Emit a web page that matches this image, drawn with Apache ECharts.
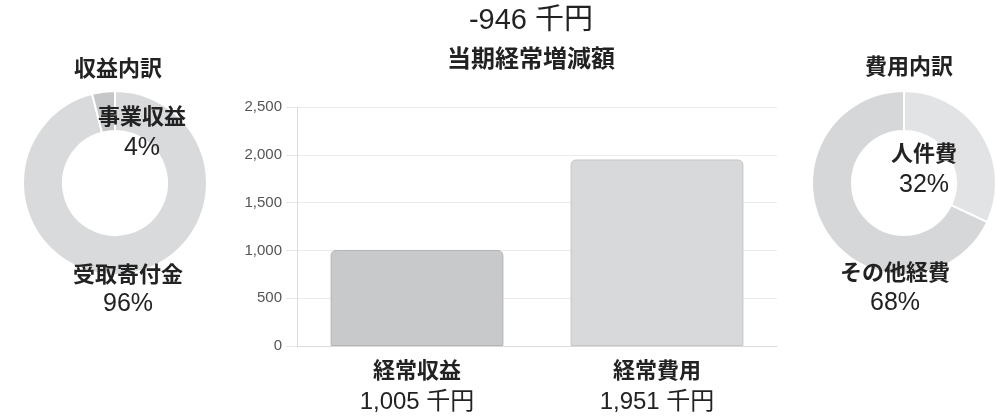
<!DOCTYPE html>
<html><head><meta charset="utf-8">
<script src="https://cdn.jsdelivr.net/npm/echarts@6/dist/echarts.min.js"></script>
<style>html,body{margin:0;padding:0;background:#fff}#c{width:996px;height:418px}</style>
</head><body><div id="c"></div>
<script>
// ---- data ----
const barCategories = ['経常収益', '経常費用'];
const barValues = [1005, 1951];
const yTicks = [0, 500, 1000, 1500, 2000, 2500];
const unit = '千円';
const mainTitle = '当期経常増減額';
const incomeTitle = '収益内訳';
const incomeNames = ['受取寄付金', '事業収益'];
const incomePct = [96, 4];
const costTitle = '費用内訳';
const costNames = ['人件費', 'その他経費'];
const costPct = [32, 68];

const FONT = '"Liberation Sans", "Noto Sans CJK JP", sans-serif';
const fmt = v => v.toLocaleString('en-US');
const net = barValues[0] - barValues[1];

const chart = echarts.init(document.getElementById('c'), null, {renderer: 'canvas'});

function txt(x, y, text, size, weight) {
  return {type: 'text', x: x, y: y, z: 100, zlevel: 1,
    style: {text: text, fill: '#222', font: (weight || 'normal') + ' ' + size + 'px ' + FONT, textAlign: 'center', textVerticalAlign: 'middle'}};
}
const labelPos = {
  income: [[128, 276, 304], [142, 118, 148]],
  cost: [[924, 155, 185], [895, 274, 303]]
};
const graphics = [
  txt(531, 21, fmt(net) + ' ' + unit, 29, 'normal'),
  txt(531, 60, mainTitle, 24, 'bold'),
  txt(118, 70, incomeTitle, 22, 'bold'),
  txt(909, 68, costTitle, 22, 'bold')
];
incomeNames.forEach((n, i) => {
  const p = labelPos.income[i];
  graphics.push(txt(p[0], p[1], n, 22, 'bold'));
  graphics.push(txt(p[0], p[2], incomePct[i] + '%', 25, 'normal'));
});
costNames.forEach((n, i) => {
  const p = labelPos.cost[i];
  graphics.push(txt(p[0], p[1], n, 22, 'bold'));
  graphics.push(txt(p[0], p[2], costPct[i] + '%', 25, 'normal'));
});

const barColors = [['#c8c9cb', '#b3b4b6'], ['#d8d9db', '#c4c5c7']];
const incomeColors = ['#d9dadc', '#c6c7c9'];
const costColors = ['#e2e3e5', '#d6d7d9'];

chart.setOption({
  animation: false,
  textStyle: {fontFamily: FONT},
  graphic: graphics,
  grid: {left: 297, right: 219, top: 107, bottom: 72},
  xAxis: {
    type: 'category', data: barCategories,
    axisLine: {lineStyle: {color: '#dcdcdc'}},
    axisTick: {show: false},
    axisLabel: {
      margin: 11,
      formatter: (v, i) => '{n|' + v + '}\n{v|' + fmt(barValues[i]) + ' ' + unit + '}',
      rich: {
        n: {fontSize: 22, fontWeight: 'bold', color: '#222', lineHeight: 30, fontFamily: FONT},
        v: {fontSize: 24, color: '#222', lineHeight: 30, fontFamily: FONT}
      }
    }
  },
  yAxis: {
    type: 'value', min: yTicks[0], max: yTicks[yTicks.length - 1], interval: yTicks[1] - yTicks[0],
    axisLine: {show: true, lineStyle: {color: '#dcdcdc'}},
    axisTick: {show: true, length: 11, lineStyle: {color: '#e6e6e6'}},
    splitLine: {lineStyle: {color: '#ebebeb'}},
    axisLabel: {margin: 15, fontSize: 15, color: '#555', formatter: v => fmt(v)}
  },
  series: [
    {
      type: 'bar', barCategoryGap: '28%',
      data: barValues.map((v, i) => ({value: v, itemStyle: {color: barColors[i][0], borderColor: barColors[i][1], borderWidth: 1, borderRadius: [5, 5, 0, 0]}})),
      silent: true
    },
    {
      type: 'pie', center: [115, 183], radius: [52, 92], startAngle: 90, clockwise: true,
      label: {show: false}, labelLine: {show: false}, silent: true,
      itemStyle: {borderColor: '#fff', borderWidth: 2},
      data: incomeNames.map((n, i) => ({name: n, value: incomePct[i], itemStyle: {color: incomeColors[i]}}))
    },
    {
      type: 'pie', center: [904, 183], radius: [52, 92], startAngle: 90, clockwise: true,
      label: {show: false}, labelLine: {show: false}, silent: true,
      itemStyle: {borderColor: '#fff', borderWidth: 2},
      data: costNames.map((n, i) => ({name: n, value: costPct[i], itemStyle: {color: costColors[i]}}))
    }
  ]
});
</script></body></html>
